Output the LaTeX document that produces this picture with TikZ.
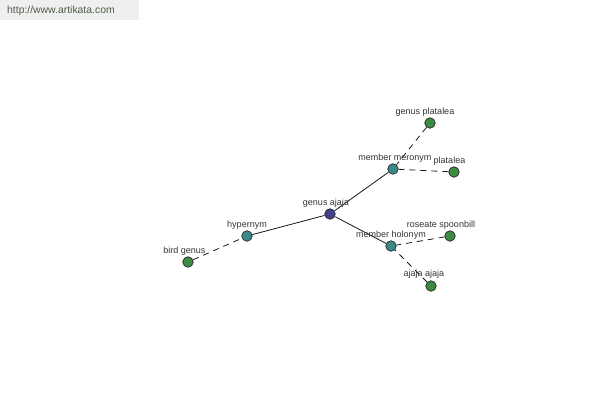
\documentclass[tikz,border=0pt]{standalone}
\usepackage{fontspec}
\setmainfont{Liberation Sans}
\definecolor{rootc}{HTML}{40408C}
\definecolor{midc}{HTML}{3B8A8A}
\definecolor{leafc}{HTML}{3F8A41}
\definecolor{txtc}{HTML}{333333}
\definecolor{hdrbg}{HTML}{EFEFEF}
\definecolor{hdrtx}{HTML}{4E5C46}
\tikzset{
  vtx/.style={circle, draw=black!85, line width=0.7pt, minimum size=10.5pt, inner sep=0pt},
  rootv/.style={vtx, fill=rootc},
  midv/.style={vtx, fill=midc},
  leafv/.style={vtx, fill=leafc},
  lbl/.style={text=txtc, font=\fontsize{9}{10}\selectfont, inner sep=0pt},
  solidedge/.style={draw=black!90, line width=0.8pt},
  dashedge/.style={draw=black!90, line width=0.8pt, dash pattern=on 6pt off 5pt},
}
\begin{document}
\begin{tikzpicture}[x=1pt,y=-1pt]
\useasboundingbox (0,0) rectangle (600,400);
\fill[hdrbg] (0,0) rectangle (139,20);
\node[anchor=west, text=hdrtx, font=\fontsize{10.4}{12}\selectfont, inner sep=0pt] (hdr) at (7,11) {http://www.artikata.com};

% vertices
\node[rootv] (ga) at (330,214) {};
\node[midv] (hy) at (247,236) {};
\node[leafv] (bg) at (188,262) {};
\node[midv] (mm) at (393,169) {};
\node[leafv] (gp) at (430,123) {};
\node[leafv] (pl) at (454,172) {};
\node[midv] (mh) at (391,246) {};
\node[leafv] (rs) at (450,236) {};
\node[leafv] (aa) at (431,286) {};

% edges
\draw[solidedge] (ga) -- (hy);
\draw[solidedge] (ga) -- (mm);
\draw[solidedge] (ga) -- (mh);
\draw[dashedge] (bg) -- (hy);
\draw[dashedge] (gp) -- (mm);
\draw[dashedge] (pl) -- (mm);
\draw[dashedge] (rs) -- (mh);
\draw[dashedge] (aa) -- (mh);

% labels
\node[lbl] (lga) at (326,203) {genus ajaja};
\node[lbl] (lhy) at (247,225) {hypernym};
\node[lbl] (lbg) at (184.5,251) {bird genus};
\node[lbl] (lmm) at (395,158) {member meronym};
\node[lbl] (lgp) at (425,112) {genus platalea};
\node[lbl] (lpl) at (449.5,161) {platalea};
\node[lbl] (lmh) at (391,235) {member holonym};
\node[lbl] (lrs) at (441,225) {roseate spoonbill};
\node[lbl] (laa) at (424,274) {ajaja ajaja};
\end{tikzpicture}
\end{document}
